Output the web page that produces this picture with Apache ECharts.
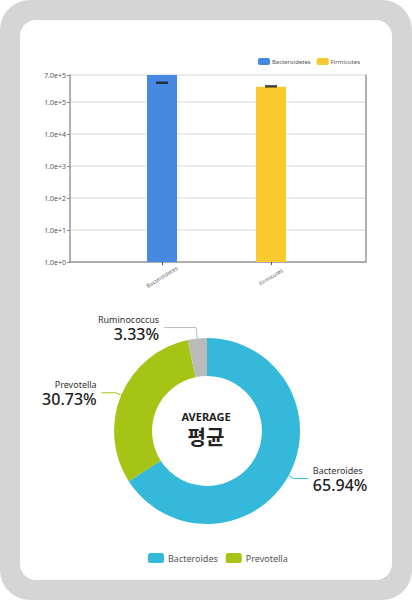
<!DOCTYPE html>
<html>
<head>
<meta charset="utf-8">
<script src="https://cdn.jsdelivr.net/npm/echarts@6/dist/echarts.min.js"></script>
<style>
  html, body { margin: 0; padding: 0; background: #fff; }
  #frame { position: absolute; left: 0; top: 0; width: 412px; height: 600px; background: #d5d5d5; border-radius: 30px; }
  #card { position: absolute; left: 20px; top: 20px; width: 372px; height: 560px; background: #fff; border-radius: 16px; }
  #chart { position: absolute; left: 0; top: 0; width: 412px; height: 600px; }
</style>
</head>
<body>
<div id="frame"><div id="card"></div></div>
<div id="chart"></div>
<script>
// bar chart (log scale)
const phyla = ['Bacteroidetes', 'Firmicutes'];
const phylaValues = [700000, 300000];
const phylaError = [400000, 310000];
const phylaColors = ['#4788e1', '#f9c930'];
const yMin = 1;
const yMax = 700000;

// donut
const genera = ['Bacteroides', 'Prevotella', 'Ruminococcus'];
const generaPct = [65.94, 30.73, 3.33];
const generaColors = ['#34b9da', '#a5c415', '#bababa'];
const pieLegend = ['Bacteroides', 'Prevotella'];

const chart = echarts.init(document.getElementById('chart'), null, { renderer: 'svg', width: 412, height: 600 });

const barSeries = phyla.map(function (name, i) {
  return {
    name: name,
    type: 'bar',
    xAxisIndex: 1,
    yAxisIndex: 1,
    barWidth: 30,
    barGap: '-100%',
    itemStyle: { color: phylaColors[i] },
    data: phyla.map(function (_, j) { return j === i ? phylaValues[i] : '-'; })
  };
});

const option = {
  animation: false,
  textStyle: { fontFamily: 'Noto Sans' },
  legend: [
    {
      data: phyla,
      right: 47,
      top: 53,
      icon: 'roundRect',
      itemWidth: 12,
      itemHeight: 7,
      itemGap: 6,
      textStyle: { fontSize: 6, color: '#555', padding: [0, 0, 0, -3] }
    },
    {
      data: pieLegend,
      left: 143,
      top: 548,
      icon: 'roundRect',
      itemWidth: 16,
      itemHeight: 10,
      itemGap: 8,
      textStyle: { fontSize: 9, color: '#555', padding: [0, 0, 0, -1] }
    }
  ],
  grid: [
    { left: 70, right: 46, top: 75, bottom: 338 },
    { left: 107.5, right: 86.5, top: 75, bottom: 338 }
  ],
  xAxis: [
    {
      gridIndex: 0, type: 'category', data: [''],
      axisLine: { lineStyle: { color: '#999', width: 1.5 } },
      axisTick: { show: false }, axisLabel: { show: false }
    },
    {
      gridIndex: 1, type: 'category', data: phyla,
      axisLine: { show: false },
      axisTick: { show: true, alignWithLabel: true, length: 3, lineStyle: { color: '#555' } },
      axisLabel: { rotate: 32, align: 'center', verticalAlign: 'middle', margin: 15, fontSize: 5.5, color: '#666' }
    }
  ],
  yAxis: [
    {
      gridIndex: 0, type: 'log', logBase: 10, min: yMin, max: yMax,
      axisLine: { show: true, lineStyle: { color: '#999', width: 1.5 } },
      axisTick: { show: true, length: 3, lineStyle: { color: '#888' } },
      splitLine: { lineStyle: { color: '#e4e4e4', width: 1.5 } },
      axisLabel: {
        fontSize: 7, color: '#555', margin: 4,
        formatter: function (v) { return Number(v).toExponential(1); }
      }
    },
    {
      gridIndex: 1, type: 'log', logBase: 10, min: yMin, max: yMax, show: false
    },
    {
      gridIndex: 0, type: 'log', logBase: 10, min: yMin, max: yMax, position: 'right',
      axisLine: { show: true, lineStyle: { color: '#999', width: 1.5 } },
      axisTick: { show: false }, axisLabel: { show: false }, splitLine: { show: false }
    }
  ],
  series: barSeries.concat([
    {
      name: 'error',
      type: 'scatter',
      xAxisIndex: 1,
      yAxisIndex: 1,
      symbol: 'rect',
      symbolSize: [12, 2.5],
      itemStyle: { color: '#1a1a1a' },
      z: 5,
      data: phyla.map(function (p, i) { return [p, phylaError[i]]; })
    },
    {
      name: 'average',
      type: 'pie',
      center: [207, 431],
      radius: [55, 93],
      startAngle: 90,
      clockwise: true,
      avoidLabelOverlap: true,
      label: {
        show: true,
        formatter: function (p) { return '{n|' + p.name + '}\n{p|' + p.value.toFixed(2) + '%}'; },
        rich: {
          n: { fontSize: 9, color: '#333', lineHeight: 12, fontFamily: 'Noto Sans' },
          p: { fontSize: 16, color: '#222', lineHeight: 17, fontWeight: 500, fontFamily: 'Noto Sans' }
        }
      },
      labelLine: { show: true, length: 6, length2: 14, lineStyle: { width: 1 } },
      emphasis: { disabled: true },
      data: genera.map(function (g, i) {
        const item = { name: g, value: generaPct[i], itemStyle: { color: generaColors[i] } };
        if (g === 'Ruminococcus') item.labelLine = { length: 11, length2: 32 };
        return item;
      })
    }
  ]),
  graphic: [
    {
      type: 'text', left: 'center', top: 411,
      style: { text: 'AVERAGE', font: 'bold 11px "Noto Sans"', fill: '#222' }
    },
    {
      type: 'text', left: 'center', top: 426,
      style: { text: '평균', font: 'bold 20px "Noto Sans CJK KR"', fill: '#222' }
    }
  ]
};

chart.setOption(option);
</script>
</body>
</html>
